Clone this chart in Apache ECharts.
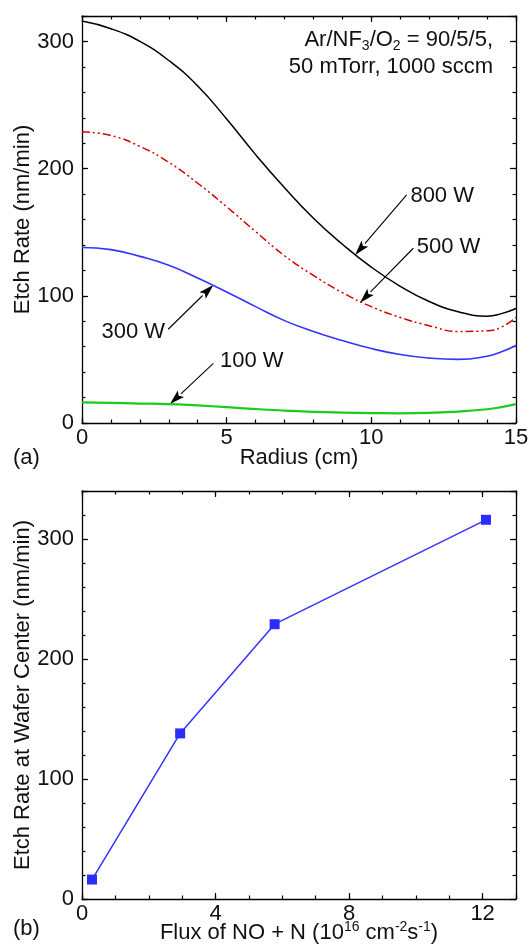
<!DOCTYPE html>
<html><head><meta charset="utf-8">
<script src="https://cdn.jsdelivr.net/npm/echarts@6/dist/echarts.min.js"></script>
<style>html,body{margin:0;padding:0;background:#fff}#c{width:532px;height:945px}</style>
</head><body><div id="c"></div>
<script>
// ---- data (a): etch rate vs radius ----
const radius  = [0, 1, 2, 3, 4, 5, 6, 7, 8, 9, 10, 11, 12, 13, 14, 14.5, 15];
const rate800 = [316, 310, 300, 285, 265, 239, 211, 185, 161, 140.5, 122.5, 107.5, 95.5, 87.5, 84, 86, 90];
const rate500 = [229, 226, 217.5, 205, 188.5, 170, 150.5, 131.5, 116, 102.5, 91.5, 83, 76.5, 72, 72.5, 75.5, 83];
const rate300 = [138, 136.3, 131, 124, 114, 103, 91.5, 80.5, 72, 64.8, 58.5, 53.8, 51, 50, 52.5, 56, 61];
const rate100 = [16.2, 15.8, 15.3, 14.9, 13.8, 12.5, 11, 9.8, 8.8, 8.2, 7.8, 7.6, 7.9, 9, 10.8, 12.5, 14.8];
// ---- data (b): centre etch rate vs flux ----
const flux       = [0.3, 2.94, 5.77, 12.1];
const rateCenter = [16.2, 138, 229, 316];
// ---- annotations (data units of panel a) ----
const powerLabels = ['800 W', '500 W', '300 W', '100 W'];
const labelAnchor = [[11.35, 178.5], [11.57, 138.6], [2.87, 71.8], [4.77, 48.7]];
const labelAlign  = ['left', 'left', 'right', 'left'];
const arrowFrom   = [[11.22, 179.3], [11.45, 137.4], [2.98, 73.7], [4.54, 46.9]];
const arrowTo     = [[9.44, 132.1], [9.61, 94.6], [4.54, 108.5], [3.04, 14.9]];

const FONT = 'Liberation Sans';
const chart = echarts.init(document.getElementById('c'), null, {renderer: 'canvas'});

function axes(dim, grid, min, max, major, minor, name, nameGap, nameStyle) {
  const sides = dim === 'x' ? ['bottom', 'top'] : ['left', 'right'];
  const list = [];
  sides.forEach((pos, si) => {
    [major, minor].forEach((step, mi) => {
      const main = si === 0 && mi === 0;
      list.push({
        type: 'value', gridIndex: grid, position: pos, min: min, max: max, interval: step, offset: 0,
        axisLine: {show: mi === 0, onZero: false, lineStyle: {color: '#000', width: 1.3}},
        axisTick: {show: true, inside: true, length: mi === 0 ? 6 : 3.5, lineStyle: {color: '#000', width: 1.2}},
        axisLabel: {show: main, margin: dim === 'x' ? 4 : 8, fontFamily: FONT, fontSize: 22, color: '#111',
          formatter: v => Math.abs(v / major - Math.round(v / major)) < 1e-6 ? String(v) : ''},
        splitLine: {show: false},
        name: main ? name : '',
        nameLocation: 'middle', nameGap: nameGap, nameMoveOverlap: false,
        nameTextStyle: Object.assign({fontFamily: FONT, fontSize: 22, color: '#111'}, nameStyle || {})
      });
    });
  });
  return list;
}

const xAxes = [].concat(
  axes('x', 0, 0, 15, 5, 1, 'Radius (cm)', 24),
  axes('x', 1, 0, 13, 4, 1, '{n|Flux of NO + N (10}{s|16}{n| cm}{s|-2}{n|s}{s|-1}{n|)}', 21, {
    rich: {
      n: {fontFamily: FONT, fontSize: 22, color: '#111', lineHeight: 26},
      s: {fontFamily: FONT, fontSize: 14, color: '#111', lineHeight: 10, verticalAlign: 'top'}
    }
  })
);
const yAxes = [].concat(
  axes('y', 0, 0, 320, 100, 20, 'Etch Rate (nm/min)', 48),
  axes('y', 1, 0, 340, 100, 20, 'Etch Rate at Wafer Center (nm/min)', 48)
);

function curve(vals, color, width, type) {
  return {
    type: 'line', xAxisIndex: 0, yAxisIndex: 0, smooth: 0.5, showSymbol: false, symbol: 'none',
    data: radius.map((r, i) => [r, vals[i]]),
    lineStyle: {color: color, width: width, type: type || 'solid'}, silent: true
  };
}

chart.setOption({
  animation: false,
  backgroundColor: '#fff',
  grid: [
    {left: 82, right: 16, top: 16, height: 407},
    {left: 82, right: 16, top: 491, height: 408}
  ],
  xAxis: xAxes,
  yAxis: yAxes,
  series: [
    curve(rate800, '#000000', 1.5),
    curve(rate500, '#d40000', 1.5, [8, 3, 2, 3, 2, 3]),
    curve(rate300, '#3434ff', 1.6),
    curve(rate100, '#1ccc1c', 2.2),
    {
      type: 'line', xAxisIndex: 4, yAxisIndex: 4,
      data: flux.map((f, i) => [f, rateCenter[i]]),
      symbol: 'rect', symbolSize: 10, showSymbol: true,
      itemStyle: {color: '#2c2cff'},
      lineStyle: {color: '#3434ff', width: 1.5}
    }
  ]
});

// annotations through the axes' conversion
const g = [];
powerLabels.forEach((t, i) => {
  const p = chart.convertToPixel({xAxisIndex: 0, yAxisIndex: 0}, labelAnchor[i]);
  g.push({type: 'text', x: p[0], y: p[1], style: {text: t, font: '22px "Liberation Sans"', fill: '#111',
    textAlign: labelAlign[i], textVerticalAlign: 'middle'}});
  const a = chart.convertToPixel({xAxisIndex: 0, yAxisIndex: 0}, arrowFrom[i]);
  const b = chart.convertToPixel({xAxisIndex: 0, yAxisIndex: 0}, arrowTo[i]);
  const dx = b[0] - a[0], dy = b[1] - a[1], L = Math.hypot(dx, dy);
  const ux = dx / L, uy = dy / L, hl = 15, hw = 4.5;
  const bx = b[0] - ux * hl, by = b[1] - uy * hl;
  g.push({type: 'line', shape: {x1: a[0], y1: a[1], x2: bx, y2: by}, style: {stroke: '#000', lineWidth: 1.1}});
  g.push({type: 'polygon', shape: {points: [[b[0], b[1]], [bx - uy * hw, by + ux * hw], [bx + ux * 3, by + uy * 3], [bx + uy * hw, by - ux * hw]]},
    style: {fill: '#000'}});
});
const rich1 = {
  n: {fontFamily: FONT, fontSize: 22, fill: '#111', lineHeight: 26},
  sub: {fontFamily: FONT, fontSize: 14, fill: '#111', lineHeight: 10, verticalAlign: 'bottom'}
};
g.push({type: 'text', x: 493, y: 40, style: {text: '{n|Ar/NF}{sub|3}{n|/O}{sub|2}{n| = 90/5/5,}', rich: rich1,
  textAlign: 'right', textVerticalAlign: 'middle'}});
g.push({type: 'text', x: 493, y: 67, style: {text: '50 mTorr, 1000 sccm', font: '22px "Liberation Sans"', fill: '#111',
  textAlign: 'right', textVerticalAlign: 'middle'}});
g.push({type: 'text', x: 13, y: 458, style: {text: '(a)', font: '22px "Liberation Sans"', fill: '#111', textVerticalAlign: 'middle'}});
g.push({type: 'text', x: 13, y: 929, style: {text: '(b)', font: '22px "Liberation Sans"', fill: '#111', textVerticalAlign: 'middle'}});
chart.setOption({graphic: g});
</script></body></html>
